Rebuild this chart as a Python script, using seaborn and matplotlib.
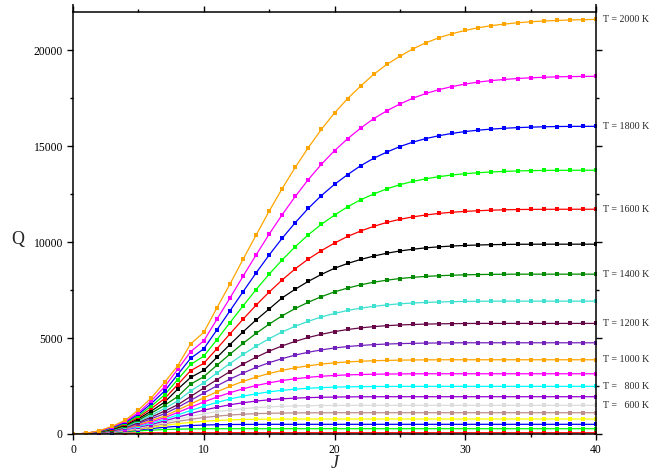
import matplotlib
matplotlib.use("Agg")
import matplotlib.pyplot as plt
from matplotlib.ticker import MultipleLocator
import seaborn as sns

# ---------------- data ----------------
J = [0, 1, 2, 3, 4, 5, 6, 7, 8, 9, 10, 11, 12, 13, 14, 15, 16, 17, 18, 19, 20,
     21, 22, 23, 24, 25, 26, 27, 28, 29, 30, 31, 32, 33, 34, 35, 36, 37, 38, 39, 40]

temps = [100, 200, 300, 400, 500, 600, 700, 800, 900, 1000,
         1100, 1200, 1300, 1400, 1500, 1600, 1700, 1800, 1900, 2000]

q_100 = [1, 3, 13, 29, 45, 55, 61, 64, 65, 65, 65, 65, 65, 65, 65, 65, 65, 65, 65, 65, 65,
         65, 65, 65, 65, 65, 65, 65, 65, 65, 65, 65, 65, 65, 65, 65, 65, 65, 65, 65, 65]
q_200 = [1, 6, 27, 62, 110, 161, 203, 233, 253, 265, 271, 274, 276, 276, 276, 276, 276, 276, 276, 276, 276,
         276, 276, 276, 276, 276, 276, 276, 276, 276, 276, 276, 276, 276, 276, 276, 276, 276, 276, 276, 276]
q_300 = [1, 7, 31, 78, 134, 210, 285, 351, 402, 441, 467, 485, 495, 500, 503, 505, 505, 505, 505, 505, 505,
         505, 505, 505, 505, 505, 505, 505, 505, 505, 505, 505, 505, 505, 505, 505, 505, 505, 505, 505, 505]
q_400 = [1, 8, 34, 89, 158, 245, 348, 448, 535, 608, 663, 705, 735, 754, 767, 774, 778, 780, 781, 781, 781,
         781, 781, 781, 781, 781, 781, 781, 781, 781, 781, 781, 781, 781, 781, 781, 781, 781, 781, 781, 781]
q_500 = [1, 9, 37, 97, 182, 272, 401, 532, 657, 766, 859, 931, 989, 1030, 1060, 1080, 1092, 1100, 1105, 1107, 1109,
         1109, 1109, 1109, 1109, 1109, 1109, 1109, 1109, 1109, 1109, 1109, 1109, 1109, 1109, 1109, 1109, 1109, 1109, 1109, 1109]
q_600 = [1, 10, 42, 106, 204, 314, 450, 610, 769, 918, 1050, 1162, 1250, 1323, 1377, 1418, 1446, 1465, 1477, 1485, 1490,
         1494, 1495, 1495, 1495, 1495, 1495, 1495, 1495, 1495, 1495, 1495, 1495, 1495, 1495, 1495, 1495, 1495, 1495, 1495, 1495]
q_700 = [1, 12, 47, 112, 225, 355, 492, 683, 877, 1067, 1240, 1393, 1524, 1629, 1716, 1782, 1835, 1871, 1897, 1915, 1926,
         1934, 1939, 1941, 1943, 1943, 1943, 1943, 1943, 1943, 1943, 1943, 1943, 1943, 1943, 1943, 1943, 1943, 1943, 1943, 1943]
q_800 = [1, 13, 52, 124, 247, 399, 558, 765, 994, 1224, 1445, 1644, 1823, 1971, 2094, 2198, 2276, 2340, 2385, 2419, 2442,
         2458, 2468, 2476, 2480, 2483, 2484, 2484, 2484, 2484, 2484, 2484, 2484, 2484, 2484, 2484, 2484, 2484, 2484, 2484, 2484]
q_900 = [1, 15, 57, 138, 271, 447, 636, 850, 1121, 1398, 1670, 1923, 2152, 2354, 2526, 2667, 2788, 2880, 2956, 3011, 3052,
         3082, 3102, 3117, 3127, 3133, 3137, 3140, 3140, 3140, 3140, 3140, 3140, 3140, 3140, 3140, 3140, 3140, 3140, 3140, 3140]
q_1000 = [1, 17, 65, 150, 296, 492, 712, 933, 1246, 1567, 1887, 2197, 2484, 2739, 2966, 3156, 3316, 3453, 3557, 3645, 3710,
          3758, 3795, 3820, 3838, 3850, 3859, 3865, 3869, 3870, 3870, 3870, 3870, 3870, 3870, 3870, 3870, 3870, 3870, 3870, 3870]
q_1100 = [1, 19, 73, 163, 324, 546, 798, 1058, 1386, 1757, 2136, 2509, 2859, 3178, 3469, 3718, 3929, 4114, 4264, 4385, 4485,
          4560, 4616, 4660, 4690, 4712, 4728, 4739, 4747, 4752, 4755, 4755, 4755, 4755, 4755, 4755, 4755, 4755, 4755, 4755, 4755]
q_1200 = [1, 20, 81, 181, 350, 601, 888, 1190, 1524, 1957, 2396, 2831, 3253, 3645, 4001, 4319, 4595, 4829, 5033, 5199, 5337,
          5448, 5533, 5598, 5648, 5684, 5710, 5730, 5744, 5753, 5760, 5765, 5765, 5765, 5765, 5765, 5765, 5765, 5765, 5765, 5765]
q_1300 = [1, 22, 90, 202, 378, 657, 984, 1330, 1720, 2250, 2670, 3177, 3675, 4145, 4576, 4970, 5321, 5621, 5877, 6103, 6284,
          6440, 6561, 6656, 6730, 6788, 6829, 6860, 6883, 6900, 6911, 6920, 6926, 6927, 6927, 6927, 6927, 6927, 6927, 6927, 6927]
q_1400 = [1, 24, 100, 227, 422, 722, 1093, 1493, 1950, 2600, 2987, 3580, 4161, 4722, 5246, 5728, 6165, 6544, 6871, 7160, 7410,
          7606, 7778, 7914, 8020, 8104, 8169, 8216, 8251, 8278, 8298, 8313, 8323, 8330, 8332, 8333, 8333, 8333, 8333, 8333, 8333]
q_1500 = [1, 27, 111, 251, 465, 794, 1204, 1659, 2330, 2950, 3318, 3990, 4662, 5323, 5943, 6517, 7100, 7550, 7960, 8320, 8640,
          8890, 9100, 9276, 9425, 9542, 9634, 9706, 9759, 9800, 9831, 9853, 9870, 9883, 9891, 9894, 9895, 9896, 9896, 9896, 9896]
q_1600 = [1, 28, 122, 278, 513, 871, 1331, 1843, 2570, 3304, 3683, 4442, 5218, 5981, 6714, 7400, 8033, 8614, 9122, 9564, 9953,
          10299, 10583, 10825, 11030, 11193, 11320, 11420, 11501, 11561, 11605, 11641, 11668, 11688, 11702, 11710, 11714, 11716, 11717, 11718, 11718]
q_1700 = [1, 30, 133, 306, 561, 949, 1460, 2035, 2833, 3627, 4056, 4914, 5801, 6673, 7528, 8331, 9078, 9765, 10388, 10935, 11411,
          11842, 12213, 12511, 12781, 12997, 13170, 13307, 13417, 13505, 13571, 13622, 13661, 13691, 13713, 13731, 13740, 13745, 13748, 13750, 13750]
q_1800 = [1, 32, 144, 335, 611, 1028, 1594, 2238, 3093, 3950, 4441, 5423, 6416, 7412, 8394, 9330, 10208, 11019, 11769, 12433, 13013,
          13522, 13987, 14375, 14697, 14985, 15217, 15403, 15552, 15673, 15769, 15840, 15896, 15939, 15973, 15997, 16016, 16029, 16036, 16039, 16040]
q_1900 = [1, 35, 158, 367, 664, 1111, 1738, 2454, 3368, 4294, 4854, 5974, 7084, 8219, 9332, 10416, 11436, 12386, 13265, 14065, 14771,
          15390, 15948, 16442, 16848, 17204, 17509, 17755, 17954, 18114, 18245, 18348, 18424, 18485, 18532, 18570, 18597, 18620, 18633, 18642, 18646]
q_2000 = [1, 36, 170, 400, 720, 1250, 1890, 2690, 3550, 4700, 5296, 6570, 7810, 9100, 10364, 11614, 12797, 13906, 14932, 15885, 16734,
          17484, 18140, 18750, 19270, 19690, 20080, 20400, 20660, 20870, 21040, 21180, 21290, 21370, 21440, 21490, 21530, 21560, 21585, 21600, 21615]

series = [q_100, q_200, q_300, q_400, q_500, q_600, q_700, q_800, q_900, q_1000,
          q_1100, q_1200, q_1300, q_1400, q_1500, q_1600, q_1700, q_1800, q_1900, q_2000]

labelled_temps = [600, 800, 1000, 1200, 1400, 1600, 1800, 2000]
label_texts = ["T =   600 K", "T =   800 K", "T = 1000 K", "T = 1200 K",
               "T = 1400 K", "T = 1600 K", "T = 1800 K", "T = 2000 K"]

# ---------------- style (Grace-like palette) ----------------
colors = ["#ff0000", "#00ff00", "#0000ff", "#ffff00", "#bc8f8f", "#dcdcdc", "#9400d3",
          "#00ffff", "#ff00ff", "#ffa500", "#7221bc", "#670748", "#40e0d0", "#008b00",
          "#000000", "#ff0000", "#00ff00", "#0000ff", "#ff00ff", "#ffa500"]

sns.set_style("ticks")
plt.rcParams["font.family"] = ["Liberation Serif", "DejaVu Serif"]

fig = plt.figure(figsize=(6.68, 4.74), dpi=100)
ax = fig.add_axes([73 / 668, 1 - 434 / 474, 523 / 668, 422 / 474])

for q, c in zip(series, colors):
    sns.lineplot(x=J, y=q, color=c, marker="s", markersize=2.4,
                 markeredgewidth=0, linewidth=0.9, ax=ax, legend=False)

ax.set_xlim(0, 40)
ax.set_ylim(0, 22000)

ax.xaxis.set_major_locator(MultipleLocator(10))
ax.xaxis.set_minor_locator(MultipleLocator(5))
ax.yaxis.set_major_locator(MultipleLocator(5000))
ax.yaxis.set_minor_locator(MultipleLocator(2500))

for s in ax.spines.values():
    s.set_visible(True)
    s.set_linewidth(1.1)
    s.set_color("black")

ax.tick_params(which="both", direction="out", top=True, right=True,
               labeltop=False, labelright=False, width=1.0, colors="black")
ax.tick_params(which="major", length=4.3, labelsize=8.4, pad=3)
ax.tick_params(which="minor", length=2.2)

# vertical axis lines extend slightly above the top frame
for xa in (0, 1):
    ax.plot([xa, xa], [1.0, 1.018], transform=ax.transAxes, color="black",
            lw=1.1, clip_on=False, solid_capstyle="butt")

ax.set_xlabel("J", fontsize=13, fontstyle="italic")
ax.xaxis.set_label_coords(0.5, -0.05)
ax.set_ylabel("Q", fontsize=13, rotation=0, va="center", ha="center")
ax.yaxis.set_label_coords(-0.105, 0.46)

for T, txt in zip(labelled_temps, label_texts):
    qv = series[temps.index(T)][-1]
    ax.annotate(txt, xy=(40, qv), xytext=(5, 0), textcoords="offset points",
                ha="left", va="center", fontsize=7.2, annotation_clip=False)

fig.savefig("out.png", dpi=100)
